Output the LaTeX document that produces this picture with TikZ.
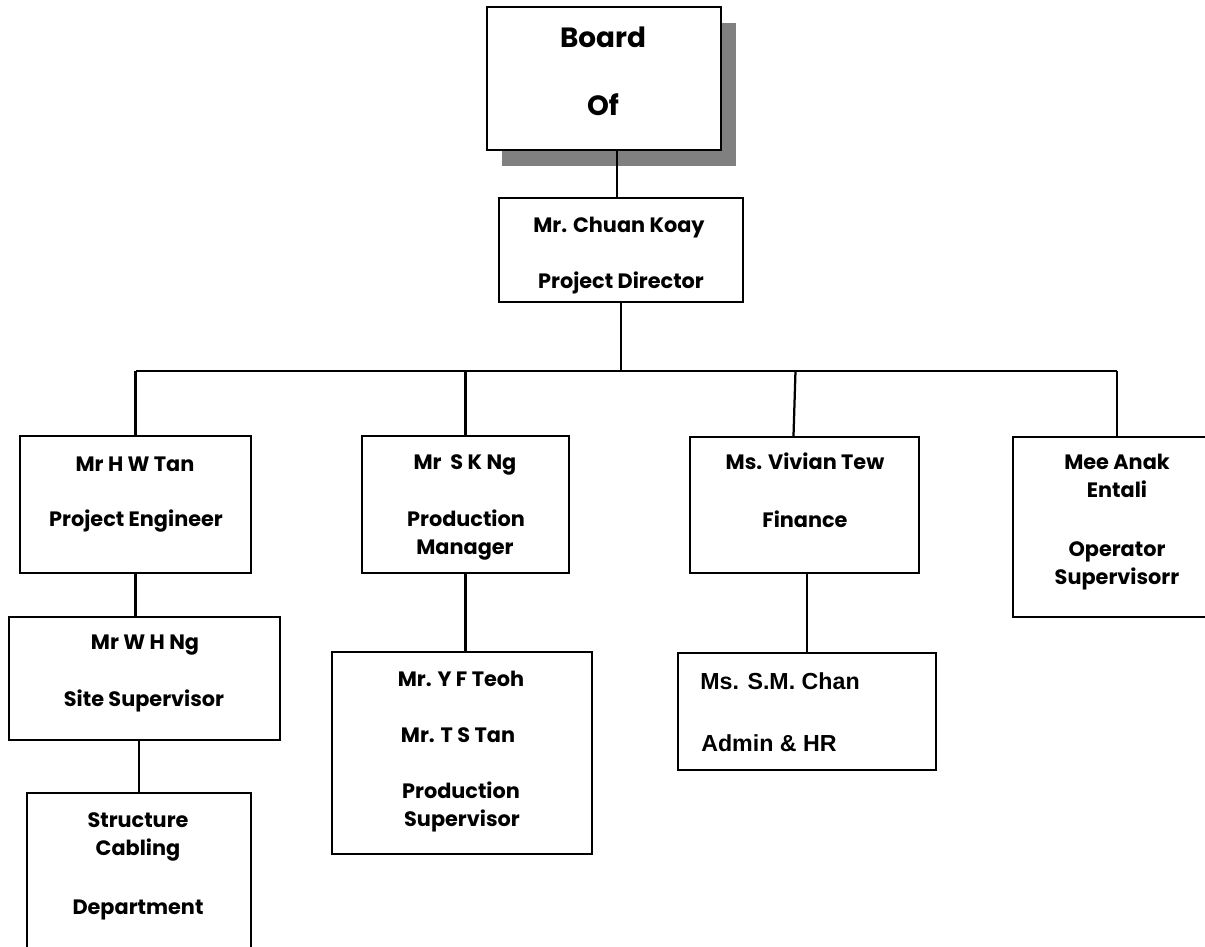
\documentclass[tikz,border=0pt]{standalone}
\usepackage{fontspec}
\setmainfont{Poppins}
\newfontfamily\smfont{Liberation Sans}
\usetikzlibrary{fit,calc,shadows}
\definecolor{shadowgray}{HTML}{808080}
\tikzset{
  box/.style={draw=black, line width=1.6pt, fill=white, inner sep=0pt, rectangle},
  conn/.style={draw=black, line width=1.6pt},
  lbl/.style={anchor=base, inner sep=0pt, font=\fontsize{14.8}{16}\selectfont\bfseries},
  biglbl/.style={anchor=base, inner sep=0pt, font=\fontsize{19.8}{22}\selectfont\bfseries},
  smlbl/.style={anchor=base west, inner sep=0pt, font=\smfont\fontsize{16.5}{20}\selectfont\bfseries},
}
\begin{document}
\begin{tikzpicture}[x=0.025cm, y=-0.025cm]
\useasboundingbox (0,0) rectangle (1205,947);
\fill[white] (0,0) rectangle (1205,947);

% boxes
\node[box, fit={(487,7)(721,150)}, drop shadow={shadow xshift=0.375cm, shadow yshift=-0.4cm, fill=shadowgray, opacity=1}] (board) {};
\node[box, fit={(499,198)(743,302)}] (chuan) {};
\node[box, fit={(20,436)(251,573)}] (hw) {};
\node[box, fit={(9,617)(280,740)}] (wh) {};
\node[box, fit={(27,793)(251,965)}] (st) {};
\node[box, fit={(362,436)(569,573)}] (sk) {};
\node[box, fit={(332,652)(592,854)}] (yf) {};
\node[box, fit={(690,437)(919,573)}] (viv) {};
\node[box, fit={(678,653)(936,770)}] (sm) {};
\node[box, fit={(1013,437)(1221,617)}] (mee) {};

% helper coordinates
\coordinate (bus) at (0,371);
\coordinate (cin) at ($(chuan.north)+(-4,0)$);
\coordinate (vtop) at ($(viv.north)+(-9,-65)$);
\coordinate (vbot) at ($(viv.north)+(-11,0)$);

% connectors
\draw[conn] (cin) -- (cin |- board.south);
\draw[conn] (chuan.south) -- (chuan.south |- bus);
\draw[conn] (hw.north |- bus) -- (mee.north |- bus);
\draw[conn] (hw.north) -- (hw.north |- bus);
\draw[conn] (sk.north) -- (sk.north |- bus);
\draw[conn] (vbot) -- (vtop);
\draw[conn] (mee.north) -- (mee.north |- bus);
\draw[conn] (hw.south) -- (hw.south |- wh.north);
\draw[conn] (st.north) -- (st.north |- wh.south);
\draw[conn] (sk.south) -- (sk.south |- yf.north);
\draw[conn] (sm.north) -- (sm.north |- viv.south);

% texts
\node[biglbl] (tb1) at (603,47) {Board};
\node[biglbl] (tb2) at (603,115) {Of};

\node[lbl] (tc1) at (619,232) {Mr. Chuan Koay};
\node[lbl] (tc2) at (621,288) {Project Director};

\node[lbl] (th1) at (135,471) {Mr H W Tan};
\node[lbl] (th2) at (136,526) {Project Engineer};

\node[lbl] (tw1) at (145,649) {Mr W H Ng};
\node[lbl] (tw2) at (144,706) {Site Supervisor};

\node[lbl] (ts1) at (138,827) {Structure};
\node[lbl] (ts2) at (138,855) {Cabling};
\node[lbl] (ts3) at (138,914) {Department};

\node[lbl] (tk1) at (465,469) {Mr\ \ S K Ng};
\node[lbl] (tk2) at (466,526) {Production};
\node[lbl] (tk3) at (465,554) {Manager};

\node[lbl] (ty1) at (461,686) {Mr. Y F Teoh};
\node[lbl] (ty2) at (458,742) {Mr. T S Tan};
\node[lbl] (ty3) at (461,798) {Production};
\node[lbl] (ty4) at (462,826) {Supervisor};

\node[lbl] (tv1) at (805,469) {Ms. Vivian Tew};
\node[lbl] (tv2) at (805,527) {Finance};

\node[smlbl] (tm1) at (700,689) {Ms. S.M. Chan};
\node[smlbl] (tm2) at (701,751) {Admin \& HR};

\node[lbl] (te1) at (1117,469) {Mee Anak};
\node[lbl] (te2) at (1117,497) {Entali};
\node[lbl] (te3) at (1117,556) {Operator};
\node[lbl] (te4) at (1117,584) {Supervisorr};
\end{tikzpicture}
\end{document}
